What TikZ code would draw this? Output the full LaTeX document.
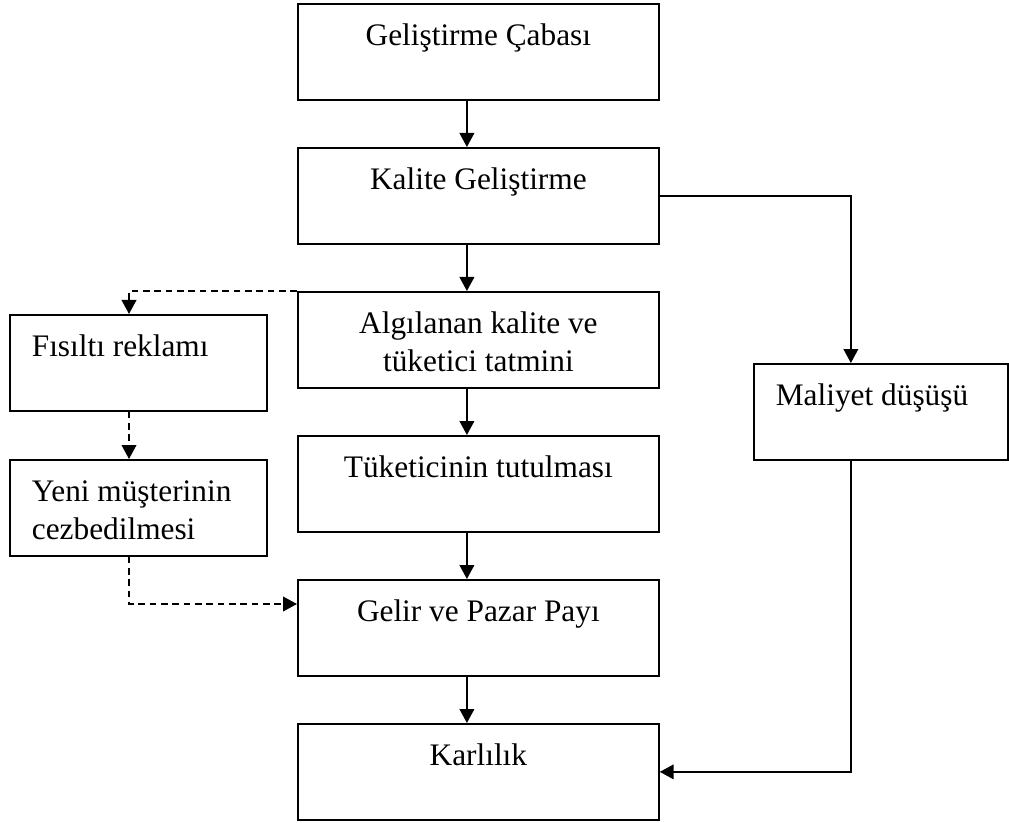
\documentclass[tikz,border=0pt]{standalone}
\usepackage{fontspec}
\setmainfont{Liberation Serif}
\usetikzlibrary{arrows.meta}
% box bodies: fixed height, first baseline 31.5pt below the top edge
\newcommand{\ctrbox}[2]{\parbox[c][72pt][t]{#1}{\centering\rule{0pt}{31.5pt}#2}}
\newcommand{\lftbox}[2]{\parbox[c][72pt][t]{#1}{\raggedright\leftskip=16.5pt\rule{0pt}{31.5pt}#2}}
\begin{document}
\begin{tikzpicture}[x=0.75pt,y=-0.75pt,
  box/.style={draw, line width=1.3pt, rectangle, inner sep=0pt, anchor=north west,
              font=\fontsize{23.5}{28.5}\selectfont},
  flow/.style={line width=1.3pt, -{Triangle[length=10.5pt,width=11pt]}},
  dflow/.style={flow, dash pattern=on 5pt off 3.5pt}]
\useasboundingbox (0,0) rectangle (1009,823);

% main chain
\node[box] (dev)  at (297,3)   {\ctrbox{270.75pt}{Geliştirme Çabası}};
\node[box] (qual) at (297,147) {\ctrbox{270.75pt}{Kalite Geliştirme}};
\node[box] (perc) at (297,291) {\ctrbox{270.75pt}{Algılanan kalite ve\\tüketici tatmini}};
\node[box] (ret)  at (297,435) {\ctrbox{270.75pt}{Tüketicinin tutulması}};
\node[box] (rev)  at (297,579) {\ctrbox{270.75pt}{Gelir ve Pazar Payı}};
\node[box] (prof) at (297,723) {\ctrbox{270.75pt}{Karlılık}};

% side branches
\node[box] (wom)  at (9,314)   {\lftbox{192.75pt}{Fısıltı reklamı}};
\node[box] (newc) at (9,459)   {\lftbox{192.75pt}{Yeni müşterinin\\cezbedilmesi}};
\node[box] (cost) at (753,363) {\lftbox{190.5pt}{Maliyet düşüşü}};

% solid connectors
\draw[flow] ([xshift=-8.6pt]dev.south)  -- ([xshift=-8.6pt]qual.north);
\draw[flow] ([xshift=-8.6pt]qual.south) -- ([xshift=-8.6pt]perc.north);
\draw[flow] ([xshift=-8.6pt]perc.south) -- ([xshift=-8.6pt]ret.north);
\draw[flow] ([xshift=-8.6pt]ret.south)  -- ([xshift=-8.6pt]rev.north);
\draw[flow] ([xshift=-8.6pt]rev.south)  -- ([xshift=-8.6pt]prof.north);
\draw[flow] (qual.east) -| ([xshift=-22.5pt]cost.north);
\draw[flow] ([xshift=-22.5pt]cost.south) |- (prof.east);

% dashed connectors
\draw[dflow] (perc.north west) -| ([xshift=90pt]wom.north west);
\draw[dflow] ([xshift=90pt]wom.south west) -- ([xshift=90pt]newc.north west);
\draw[dflow] ([xshift=90pt]newc.south west) |- ([yshift=-18.75pt]rev.north west);
\end{tikzpicture}
\end{document}
